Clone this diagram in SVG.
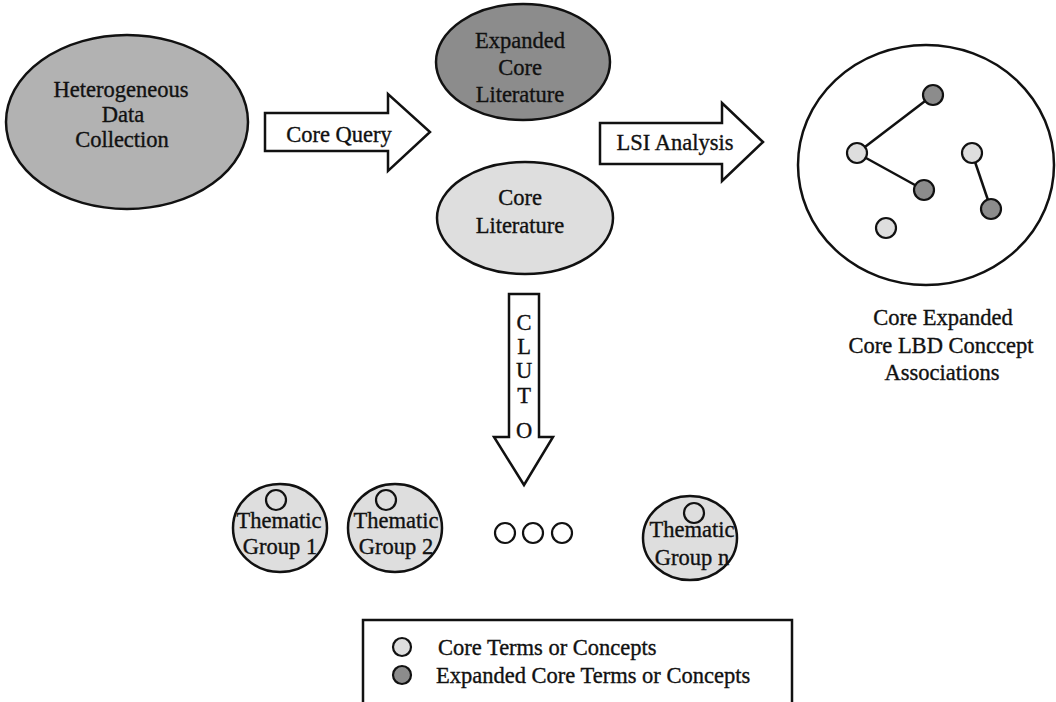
<svg xmlns="http://www.w3.org/2000/svg" width="1056" height="702" viewBox="0 0 1056 702">
<style>
text{font-family:"Liberation Serif","Times New Roman",serif;font-size:22.5px;fill:#111;stroke:#111;stroke-width:0.35;text-anchor:middle}
.ol{stroke:#111;stroke-width:2.5}
.arr{fill:#fff;stroke:#111;stroke-width:2.5;stroke-linejoin:miter}
.lt{fill:#dedede}
.dk{fill:#8c8c8c}
.md{fill:#b2b2b2}
.sm{stroke:#111;stroke-width:2.2}
.ln{stroke:#111;stroke-width:2.5}
.lg text{text-anchor:start}
</style>
<rect width="1056" height="702" fill="#fff"/>
<g id="heterogeneous">
<ellipse class="ol md" cx="127" cy="122" rx="121" ry="87"/>
<text x="121" y="97">Heterogeneous</text>
<text x="123" y="122">Data</text>
<text x="122" y="147">Collection</text>
</g>
<g id="expanded-core">
<ellipse class="ol dk" cx="523" cy="62" rx="87" ry="58"/>
<text x="520" y="48">Expanded</text>
<text x="520" y="75">Core</text>
<text x="520" y="102">Literature</text>
</g>
<g id="core-literature">
<ellipse class="ol lt" cx="525" cy="218" rx="88" ry="56"/>
<text x="520" y="205">Core</text>
<text x="520" y="233">Literature</text>
</g>
<g id="connectors">
<g id="core-query">
<polygon class="arr" points="265,113 388,113 388,94 430,132 388,171 388,151 265,151"/>
<text x="339" y="142">Core Query</text>
</g>
<g id="lsi">
<polygon class="arr" points="600,123 722,123 722,103 763,142 722,181 722,164 600,164"/>
<text x="675" y="150">LSI Analysis</text>
</g>
<g id="cluto">
<polygon class="arr" points="509,294 539,294 539,437 553,437 524,485 494,437 509,437"/>
<text x="524" y="330">C</text>
<text x="524" y="354">L</text>
<text x="524" y="378">U</text>
<text x="524" y="403">T</text>
<text x="524" y="438">O</text>
</g>
</g>
<g id="associations">
<ellipse cx="926" cy="165" rx="128" ry="120" fill="#fff" class="ol"/>
<line class="ln" x1="857" y1="153" x2="933" y2="95"/>
<line class="ln" x1="857" y1="153" x2="924" y2="190"/>
<line class="ln" x1="972" y1="153" x2="991" y2="209"/>
<circle class="sm dk" cx="933" cy="95" r="10"/>
<circle class="sm lt" cx="857" cy="153" r="10"/>
<circle class="sm lt" cx="972" cy="153" r="10"/>
<circle class="sm dk" cx="924" cy="190" r="10"/>
<circle class="sm dk" cx="991" cy="209" r="10"/>
<circle class="sm lt" cx="886" cy="228" r="10"/>
<text x="943" y="325">Core Expanded</text>
<text x="941" y="353">Core LBD Conccept</text>
<text x="942" y="380">Associations</text>
</g>
<g id="group-1">
<ellipse class="ol lt" cx="280" cy="528" rx="47" ry="44"/>
<circle cx="276" cy="500" r="10" fill="none" class="sm"/>
<text x="279" y="528">Thematic</text>
<text x="280" y="554">Group 1</text>
</g>
<g id="group-2">
<ellipse class="ol lt" cx="395" cy="528" rx="47" ry="44"/>
<circle cx="386" cy="500" r="10" fill="none" class="sm"/>
<text x="396" y="528">Thematic</text>
<text x="396" y="554">Group 2</text>
</g>
<g id="ellipsis">
<circle cx="505" cy="533" r="10" fill="none" class="sm"/>
<circle cx="533" cy="533" r="10" fill="none" class="sm"/>
<circle cx="562" cy="533" r="10" fill="none" class="sm"/>
</g>
<g id="group-n">
<ellipse class="ol lt" cx="690" cy="538" rx="47" ry="42"/>
<circle cx="694" cy="513" r="10" fill="none" class="sm"/>
<text x="692" y="537">Thematic</text>
<text x="692" y="565">Group n</text>
</g>
<g id="legend" class="lg">
<rect x="363" y="620" width="429" height="100" fill="#fff" class="ol" stroke-width="2"/>
<circle class="sm lt" cx="402" cy="647" r="9"/>
<circle class="sm dk" cx="402" cy="675" r="9"/>
<text x="438" y="655">Core Terms or Concepts</text>
<text x="436" y="683">Expanded Core Terms or Concepts</text>
</g>
</svg>
